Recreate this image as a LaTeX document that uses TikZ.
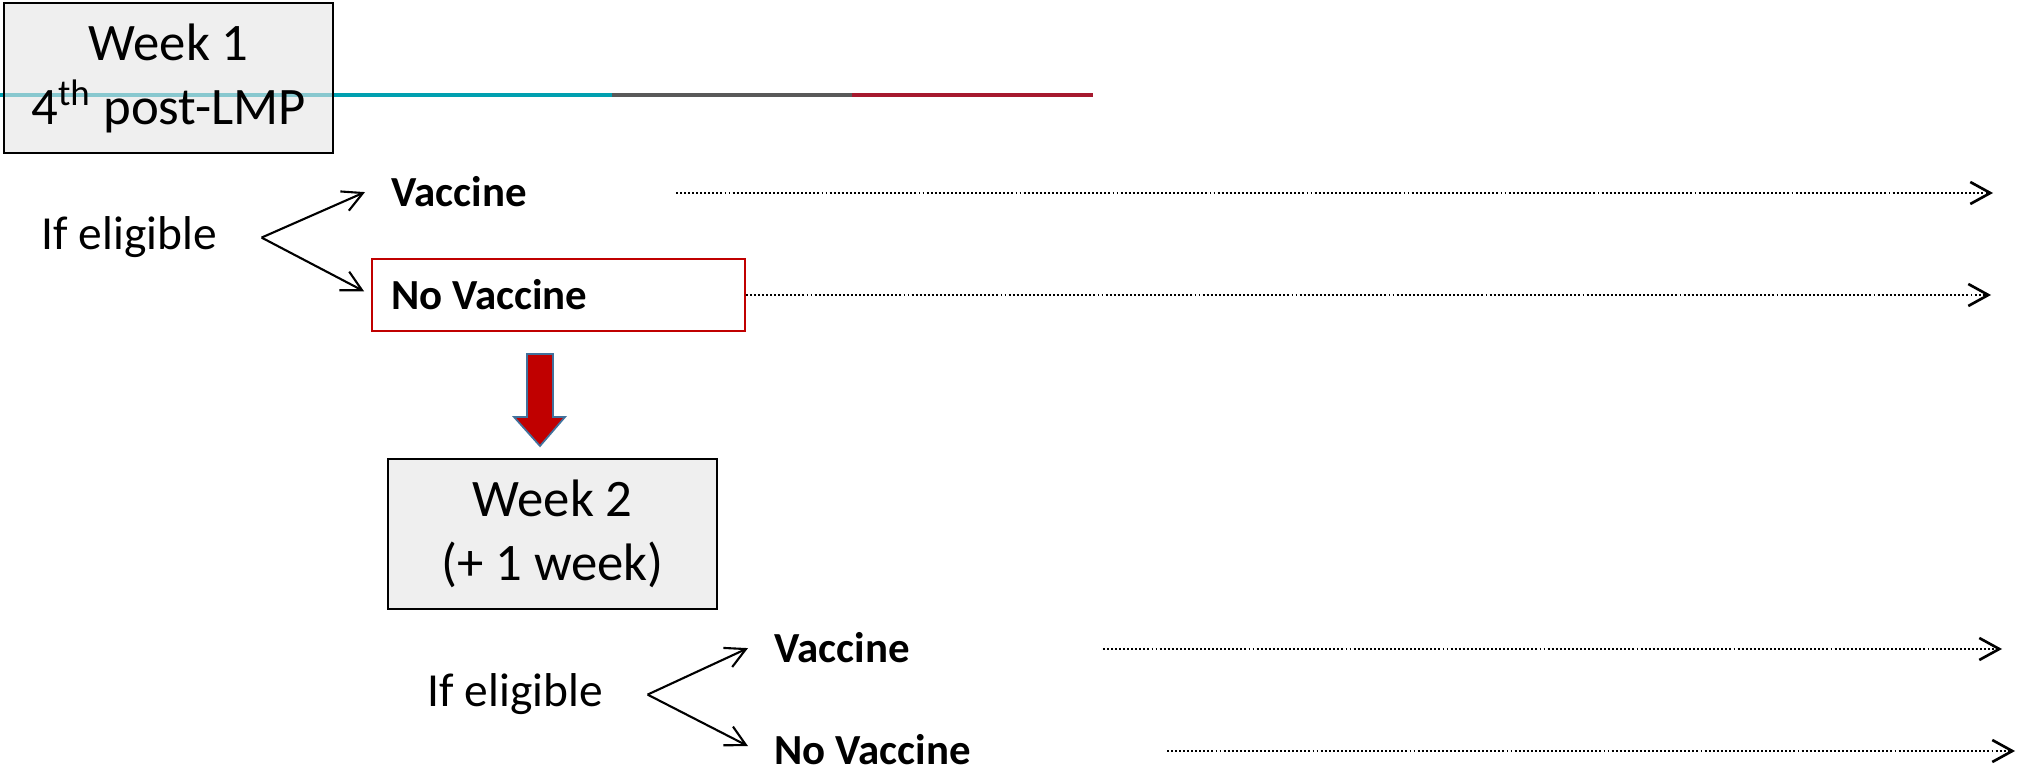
\documentclass[tikz,border=0pt]{standalone}
\usepackage{fontspec}
\setmainfont{Carlito}
\usetikzlibrary{arrows.meta,positioning}
\definecolor{boxgrau}{HTML}{E4E4E4}
\definecolor{petrol}{HTML}{00A0B0}
\definecolor{dunkelgrau}{HTML}{595959}
\definecolor{weinrot}{HTML}{A6192E}
\definecolor{rahmenrot}{HTML}{C00000}
\definecolor{pfeilblau}{HTML}{41719C}
\begin{document}
\begin{tikzpicture}[x=0.1mm, y=-0.1mm,
  every node/.style={font=\fontsize{13.5}{15}\selectfont},
  weekbox/.style={draw=black, line width=0.6pt, fill=boxgrau, fill opacity=0.6, text opacity=1,
    align=center, minimum width=32.9mm, minimum height=15mm, inner sep=0pt,
    font=\fontsize{15}{18.2}\selectfont},
  elig/.style={anchor=base west, inner sep=0pt},
  wahl/.style={anchor=base west, inner xsep=2.6mm, inner ysep=0pt, font=\fontsize{12.2}{14}\selectfont\bfseries},
  neinbox/.style={draw=rahmenrot, line width=0.5pt, text width=33.5mm, align=flush left,
    inner xsep=1.9mm, minimum height=7.2mm, font=\fontsize{12.2}{14}\selectfont\bfseries},
  gabelpfeil/.style={line width=0.6pt, -{Straight Barb[length=2mm, width=2.1mm]}},
  punktpfeil/.style={line width=0.55pt, dash pattern=on 0.55pt off 0.6pt,
    -{Straight Barb[length=2mm, width=2.2mm, line width=0.75pt]}},
  blockpfeil/.style={fill=rahmenrot, draw=pfeilblau, line width=0.5pt, line join=miter}]
  \useasboundingbox (0,0) rectangle (2019,771);
  % Zeitleiste oben
  \foreach \a/\b/\f in {0/612/petrol, 612/852/dunkelgrau, 852/1093/weinrot}{
    \draw[line width=1.15pt, \f] (\a,95) -- (\b,95);
  }
  % Woche 1
  \node[weekbox] (wk1) at (168.5,78) {Week 1\\4\textsuperscript{th} post-LMP};
  \node[elig] (elig1) at (41,250) {If eligible};
  \coordinate[right=4.4mm of elig1] (gabel1);
  \node[wahl] (vac1) at (365,207) {Vaccine};
  \node[neinbox] (nv1) at (558.5,295) {No Vaccine};
  \draw[gabelpfeil] (gabel1) -- (vac1.west);
  \draw[gabelpfeil, shorten >=0.8mm] (gabel1) -- (nv1.west);
  \coordinate (vac1los) at (676,193);
  \coordinate (vac1ziel) at (1993,193);
  \coordinate (nv1ziel) at (1991,295);
  \draw[punktpfeil] (vac1los) -- (vac1ziel);
  \draw[punktpfeil] (nv1.east) -- (nv1ziel);
  % Blockpfeil nach unten
  \draw[blockpfeil] (527,354) -- (553,354) -- (553,417) -- (565,417) -- (540,446)
    -- (514,417) -- (527,417) -- cycle;
  % Woche 2
  \node[weekbox] (wk2) at (552.5,534) {Week 2\\(+ 1 week)};
  \node[elig] (elig2) at (427,707) {If eligible};
  \coordinate[right=4.4mm of elig2] (gabel2);
  \node[wahl] (vac2) at (748,663) {Vaccine};
  \node[wahl] (nv2) at (748,765) {No Vaccine};
  \draw[gabelpfeil] (gabel2) -- (vac2.west);
  \draw[gabelpfeil] (gabel2) -- ([yshift=0.4mm]nv2.west);
  \coordinate (vac2los) at (1103,649);
  \coordinate (vac2ziel) at (2002,649);
  \coordinate (nv2los) at (1167,751);
  \coordinate (nv2ziel) at (2015,751);
  \draw[punktpfeil] (vac2los) -- (vac2ziel);
  \draw[punktpfeil] (nv2los) -- (nv2ziel);
\end{tikzpicture}
\end{document}
